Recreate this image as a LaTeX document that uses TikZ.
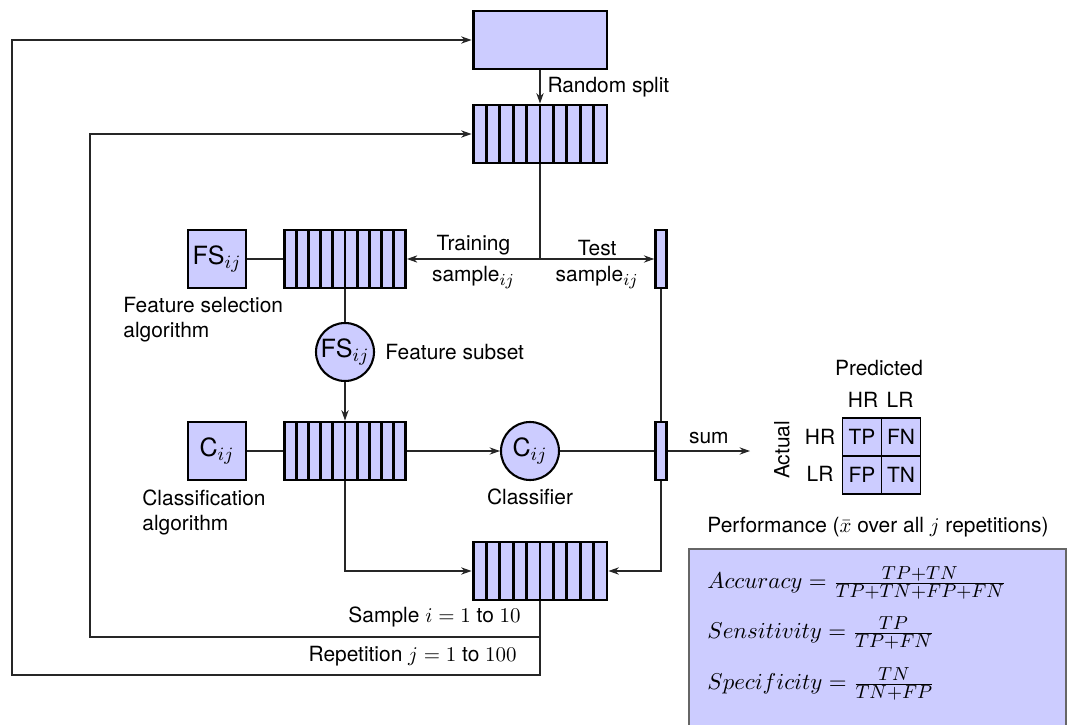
\documentclass[tikz,border=0pt]{standalone}
\usepackage{amsmath,amssymb}
\usepackage[no-math]{fontspec}
\setmainfont{TeX Gyre Heros}
\usepackage{xcolor}
\usetikzlibrary{positioning,arrows.meta,shapes,calc}
\definecolor{lav}{RGB}{204,204,255}
\DeclareMathSizes{10}{10}{8}{6}
\DeclareMathSizes{12}{12}{9}{7}
\DeclareMathSizes{10.5}{10.5}{8.7}{6.5}

\begin{document}
\begin{tikzpicture}[x=0.0168cm, y=-0.0168cm,
    >={Stealth[length=5pt,width=3.5pt]},
    conn/.style={draw=black!85, line width=0.5pt},
    datbox/.style={draw, fill=lav, line width=1.4pt, minimum width=#1, minimum height=0.974cm, inner sep=0pt},
    datbox/.default=2.25cm,
    stripes/.style={path picture={\foreach \k in {1,...,9}
        \draw[line width=1.4pt] ($(path picture bounding box.south west)!\k/10!(path picture bounding box.south east)$)
        -- ($(path picture bounding box.north west)!\k/10!(path picture bounding box.north east)$);}},
    algbox/.style={draw, fill=lav, line width=1.4pt, minimum size=0.974cm, inner sep=0pt, font=\large},
    thinbox/.style={draw, fill=lav, line width=1.2pt, minimum width=0.185cm, minimum height=0.974cm, inner sep=0pt},
    resnode/.style={circle, draw, fill=lav, line width=1pt, minimum size=0.974cm, inner sep=0pt, font=\large},
    cell/.style={draw, fill=lav, line width=0.6pt, minimum width=0.655cm, minimum height=0.64cm, inner sep=0pt},
    formula/.style={anchor=west, font=\fontsize{10.5}{12}\selectfont}
]
    \useasboundingbox (0,0) rectangle (1071,725);

    % data sets
    \node[datbox] (pool) at (540,40) {};
    \node[datbox, stripes] (folds) at (540,134) {};
    \node[datbox=2.03cm, stripes] (train) at (345,259) {};
    \node[thinbox] (test) at (661,259) {};
    \node[algbox] (fsalg) at (217,259) {FS$_{ij}$};
    \node[resnode] (fssub) at (345,352) {FS$_{ij}$};
    \node[datbox=2.03cm, stripes] (train2) at (345,451) {};
    \node[algbox] (calg) at (217,451) {C$_{ij}$};
    \node[resnode] (clf) at (530,451) {C$_{ij}$};
    \node[thinbox] (test2) at (661,451) {};
    \node[datbox, stripes] (pred) at (540,571) {};

    % labels
    \node[anchor=north west, align=left] (fslbl) at (116,290) {Feature selection\\algorithm};
    \node[anchor=north west, align=left] (clbl) at (135,482) {Classification\\algorithm};
    \node[anchor=west] (fsublbl) at (378,352) {Feature subset};
    \node[below] (clflbl) at (clf.south) {Classifier};
    \node[anchor=east] (smplbl) at (528,617) {Sample $i=1$ to $10$};
    \node[anchor=east] (replbl) at (524,656) {Repetition $j=1$ to $100$};

    % connectors
    \coordinate (split) at (540,259);
    \coordinate (sumend) at (750,451);
    \coordinate (inner) at (90,637);
    \coordinate (outer) at (12,675);
    \draw[conn,->] (pool) -- (folds) node[midway,right] (rsplit) {Random split};
    \draw[conn] (folds.south) -- (split);
    \draw[conn,->] (split) -- (train.east) node[midway,above,inner sep=1.5pt] (trlbl) {Training} node[midway,below] (trlbl2) {sample$_{ij}$};
    \draw[conn,->] (split) -- (test.west) node[midway,above,inner sep=1.5pt] (tslbl) {Test} node[midway,below] (tslbl2) {sample$_{ij}$};
    \draw[conn] (fsalg) -- (train);
    \draw[conn] (train) -- (fssub);
    \draw[conn,->] (fssub) -- (train2);
    \draw[conn] (calg) -- (train2);
    \draw[conn,->] (train2) -- (clf);
    \draw[conn] (clf) -- (test2);
    \draw[conn] (test) -- (test2);
    \draw[conn,->] (test2.south) |- (pred.east);
    \draw[conn,->] (train2.south) |- (pred.west);
    \draw[conn,->] (test2.east) -- (sumend) node[midway,above] (sumlbl) {sum};
    \draw[conn,->] (pred.south) |- (inner) |- (folds.west);
    \draw[conn,->] (pred.south) |- (outer) |- (pool.west);

    % confusion matrix
    \node[cell] (tp) at (862,437) {TP};
    \node[cell] (fn) at (901,437) {FN};
    \node[cell] (fp) at (862,475) {FP};
    \node[cell] (tn) at (901,475) {TN};
    \node (predlbl) at (879,368) {Predicted};
    \node (phr) at (863,400) {HR};
    \node (plr) at (900,400) {LR};
    \node (ahr) at (820,437) {HR};
    \node (alr) at (820,474) {LR};
    \node[rotate=90] (actlbl) at (782,450) {Actual};

    % performance
    \node (perflbl) at (878,527) {Performance ($\bar{x}$ over all $j$ repetitions)};
    \draw[fill=lav, draw=black!60, line width=0.6pt] (689,549) rectangle (1066,740);
    \node[formula] (acc) at (700,583) {$Accuracy=\frac{TP+TN}{TP+TN+FP+FN}$};
    \node[formula] (sens) at (700,633) {$Sensitivity=\frac{TP}{TP+FN}$};
    \node[formula] (spec) at (700,684) {$Specificity=\frac{TN}{TN+FP}$};
\end{tikzpicture}
\end{document}
